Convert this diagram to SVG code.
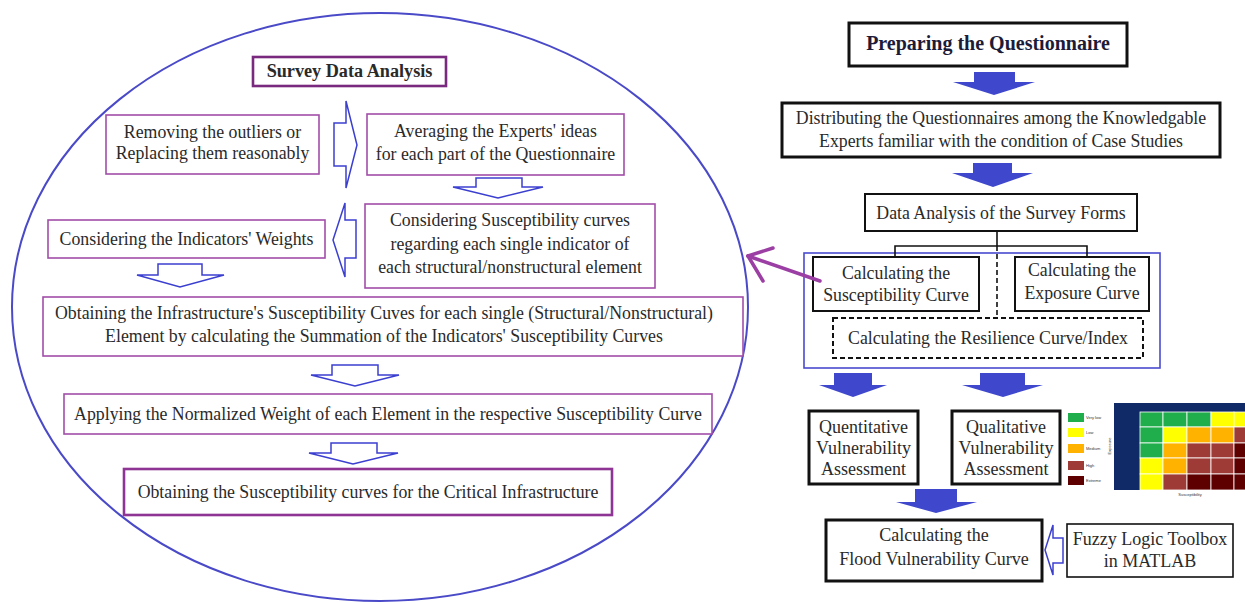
<svg xmlns="http://www.w3.org/2000/svg" width="1245" height="602" viewBox="0 0 1245 602">
<style>
text{font-family:"Liberation Serif","Times New Roman",serif;fill:#2a2a2a;text-anchor:middle}
.t16{font-size:17.8px}
.t17{font-size:20px}
.t18{font-size:18px}
.b{font-weight:bold}
.pbox{fill:#fff;stroke:#a24ea8;stroke-width:1.6}
.pbox2{fill:#fff;stroke:#7a2a7e;stroke-width:2.6}
.kbox{fill:#fff;stroke:#111;stroke-width:2}
.kbox3{fill:#fff;stroke:#111;stroke-width:3}
.hollow{fill:#fff;stroke:#3b3fcf;stroke-width:1.5;stroke-linejoin:miter}
.solid{fill:#3f48cc;stroke:none}
.tiny{font-family:"Liberation Sans",Arial,sans-serif;font-size:4px;fill:#333}
</style>

<g id="ellipse">
<ellipse cx="380" cy="307" rx="368" ry="294" fill="none" stroke="#4a4ac8" stroke-width="2"/>
</g>

<g id="survey-data-analysis">
<rect x="253" y="57" width="193" height="29" class="pbox2"/>
<text x="349.5" y="77" class="b" style="font-size:18.2px">Survey Data Analysis</text>
</g>

<g id="removing-outliers">
<rect x="106" y="115" width="213" height="59" class="pbox"/>
<text x="212.5" y="138" class="t16">Removing the outliers or</text>
<text x="212.5" y="159" class="t16">Replacing them reasonably</text>
</g>

<g id="averaging">
<rect x="367" y="114" width="257" height="61" class="pbox"/>
<text x="495.5" y="137" class="t16">Averaging the Experts' ideas</text>
<text x="495.5" y="160" class="t16">for each part of the Questionnaire</text>
</g>

<g id="considering-susceptibility">
<rect x="365" y="204" width="290" height="84" class="pbox"/>
<text x="510" y="226" class="t16">Considering Susceptibility curves</text>
<text x="510" y="250" class="t16">regarding each single indicator of</text>
<text x="510" y="273" class="t16">each structural/nonstructural element</text>
</g>

<g id="indicators-weights">
<rect x="48" y="220" width="277" height="38" class="pbox"/>
<text x="186.5" y="245" class="t16">Considering the Indicators' Weights</text>
</g>

<g id="obtaining-element-curves">
<rect x="43" y="297" width="700" height="59" class="pbox"/>
<text x="384" y="319" class="t16">Obtaining the Infrastructure's Susceptibility Cuves for each single (Structural/Nonstructural)</text>
<text x="384" y="342" class="t16">Element by calculating the Summation of the Indicators' Susceptibility Curves</text>
</g>

<g id="applying-weights">
<rect x="64" y="394" width="648" height="40" class="pbox"/>
<text x="388" y="420" class="t16">Applying the Normalized Weight of each Element  in the respective Susceptibility Curve</text>
</g>

<g id="critical-infrastructure-curves">
<rect x="124" y="469" width="488" height="46" class="pbox2" style="stroke:#8e3494"/>
<text x="368" y="498" class="t16">Obtaining the Susceptibility curves for the Critical Infrastructure</text>
</g>

<g id="preparing-questionnaire">
<rect x="849" y="23" width="278" height="43" class="kbox3"/>
<text x="988" y="50" class="t17 b" style="fill:#1c1c3a">Preparing the Questionnaire</text>
</g>

<g id="distributing">
<rect x="782" y="103" width="438" height="54" class="kbox3"/>
<text x="1001" y="124" class="t16">Distributing the Questionnaires among the Knowledgable</text>
<text x="1001" y="147" class="t16">Experts familiar with the condition of Case Studies</text>
</g>

<g id="data-analysis-forms">
<rect x="865" y="194" width="272" height="37" class="kbox"/>
<text x="1001" y="219" class="t16">Data Analysis of the Survey Forms</text>
</g>

<g id="calculation-group">
<rect x="804" y="253" width="356" height="115" fill="none" stroke="#4a4ad0" stroke-width="1.6"/>
</g>

<g id="susceptibility-curve">
<rect x="813" y="257" width="166" height="54" class="kbox"/>
<text x="896" y="279" class="t16">Calculating the</text>
<text x="896" y="301" class="t16">Susceptibility Curve</text>
</g>

<g id="exposure-curve">
<rect x="1015" y="257" width="134" height="54" class="kbox"/>
<text x="1082" y="276" class="t16">Calculating the</text>
<text x="1082" y="299" class="t16">Exposure Curve</text>
</g>

<g id="resilience-curve">
<rect x="833" y="318" width="310" height="40" fill="#fff" stroke="#111" stroke-width="2" stroke-dasharray="5,3"/>
<text x="988" y="344" class="t16">Calculating the Resilience Curve/Index</text>
</g>

<g id="quantitative">
<rect x="809" y="411" width="109" height="73" class="kbox3"/>
<text x="863.5" y="433" class="t18">Quentitative</text>
<text x="863.5" y="454" class="t18">Vulnerability</text>
<text x="863.5" y="475" class="t18">Assessment</text>
</g>

<g id="qualitative">
<rect x="952" y="411" width="108" height="73" class="kbox3"/>
<text x="1006" y="433" class="t18">Qualitative</text>
<text x="1006" y="454" class="t18">Vulnerability</text>
<text x="1006" y="475" class="t18">Assessment</text>
</g>

<g id="risk-matrix">
<rect x="1068" y="413" width="16" height="9" fill="#1fae4b"/>
<rect x="1068" y="428" width="16" height="9" fill="#ffff00"/>
<rect x="1068" y="444" width="16" height="9" fill="#ffb300"/>
<rect x="1068" y="461" width="16" height="9" fill="#9e3b36"/>
<rect x="1068" y="476" width="16" height="9" fill="#5e0000"/>
<text x="1086" y="419" class="tiny" style="text-anchor:start">Very low</text>
<text x="1086" y="434" class="tiny" style="text-anchor:start">Low</text>
<text x="1086" y="450" class="tiny" style="text-anchor:start">Medium</text>
<text x="1086" y="467" class="tiny" style="text-anchor:start">High</text>
<text x="1086" y="482" class="tiny" style="text-anchor:start">Extreme</text>
<rect x="1114" y="403" width="131" height="87" fill="#0f2a66"/>
<g stroke="#fff" stroke-width="0.8">
<rect x="1140" y="412" width="23" height="15" fill="#1fae4b"/>
<rect x="1163" y="412" width="24" height="15" fill="#1fae4b"/>
<rect x="1187" y="412" width="24" height="15" fill="#1fae4b"/>
<rect x="1211" y="412" width="23" height="15" fill="#ffff00"/>
<rect x="1234" y="412" width="12" height="15" fill="#ffff00"/>
<rect x="1140" y="427" width="23" height="16" fill="#1fae4b"/>
<rect x="1163" y="427" width="24" height="16" fill="#ffff00"/>
<rect x="1187" y="427" width="24" height="16" fill="#ffb300"/>
<rect x="1211" y="427" width="23" height="16" fill="#ffb300"/>
<rect x="1234" y="427" width="12" height="16" fill="#9e3b36"/>
<rect x="1140" y="443" width="23" height="15" fill="#1fae4b"/>
<rect x="1163" y="443" width="24" height="15" fill="#ffb300"/>
<rect x="1187" y="443" width="24" height="15" fill="#9e3b36"/>
<rect x="1211" y="443" width="23" height="15" fill="#9e3b36"/>
<rect x="1234" y="443" width="12" height="15" fill="#5e0000"/>
<rect x="1140" y="458" width="23" height="16" fill="#ffff00"/>
<rect x="1163" y="458" width="24" height="16" fill="#ffb300"/>
<rect x="1187" y="458" width="24" height="16" fill="#9e3b36"/>
<rect x="1211" y="458" width="23" height="16" fill="#9e3b36"/>
<rect x="1234" y="458" width="12" height="16" fill="#5e0000"/>
<rect x="1140" y="474" width="23" height="16" fill="#ffff00"/>
<rect x="1163" y="474" width="24" height="16" fill="#9e3b36"/>
<rect x="1187" y="474" width="24" height="16" fill="#5e0000"/>
<rect x="1211" y="474" width="23" height="16" fill="#5e0000"/>
<rect x="1234" y="474" width="12" height="16" fill="#5e0000"/>
</g>
<text x="1190" y="496" class="tiny">Susceptibility</text>
<text x="0" y="0" class="tiny" transform="translate(1111,446) rotate(-90)">Exposure</text>
</g>

<g id="flood-vulnerability">
<rect x="826" y="520" width="216" height="61" class="kbox3"/>
<text x="934" y="541" class="t18">Calculating the</text>
<text x="934" y="565" class="t18">Flood Vulnerability Curve</text>
</g>

<g id="fuzzy-logic">
<rect x="1067" y="524" width="166" height="53" fill="#fff" stroke="#111" stroke-width="1.6"/>
<text x="1150" y="545" class="t18">Fuzzy Logic Toolbox</text>
<text x="1150" y="567" class="t18">in MATLAB</text>
</g>

<g id="connectors">
<polygon class="hollow" points="334,123 346,123 346,101 357,145 346,188 346,166 334,166"/>
<polygon class="hollow" points="476,178 522,178 522,187 543,187 498,198 453,187 476,187"/>
<polygon class="hollow" points="356,220 345,220 345,203 333,240 345,277 345,258 356,258"/>
<polygon class="hollow" points="158,264 202,264 202,275 224,275 180,287 137,275 158,275"/>
<polygon class="hollow" points="332,365 378,365 378,375 399,375 355,386 311,375 332,375"/>
<polygon class="hollow" points="331,443 377,443 377,453 398,453 353,464 309,453 331,453"/>
<polygon class="hollow" points="1063,538 1053,538 1053,525 1045,550 1053,575 1053,563 1063,563"/>
<polygon class="solid" points="974,72 1015,72 1015,82 1035,82 994,95 953,82 974,82"/>
<polygon class="solid" points="973,163 1012,163 1012,173 1033,173 993,187 952,173 973,173"/>
<polygon class="solid" points="834,373 872,373 872,385 887,385 853,397 819,385 834,385"/>
<polygon class="solid" points="980,373 1025,373 1025,385 1043,385 1003,397 962,385 980,385"/>
<polygon class="solid" points="915,489 957,489 957,502 977,502 936,513 896,502 915,502"/>
<g fill="none" stroke="#111" stroke-width="1.6">
<polyline points="895,257 895,246 1087,246 1087,257"/>
<line x1="997" y1="231" x2="997" y2="246"/>
<line x1="997" y1="246" x2="997" y2="318" stroke-dasharray="5,3"/>
</g>
<g fill="none" stroke="#9c3fa4" stroke-width="3.5" stroke-linecap="round">
<line x1="820" y1="281" x2="748" y2="256"/>
<line x1="748" y1="256" x2="773" y2="248"/>
<line x1="748" y1="256" x2="763" y2="281"/>
</g>
</g>
</svg>
